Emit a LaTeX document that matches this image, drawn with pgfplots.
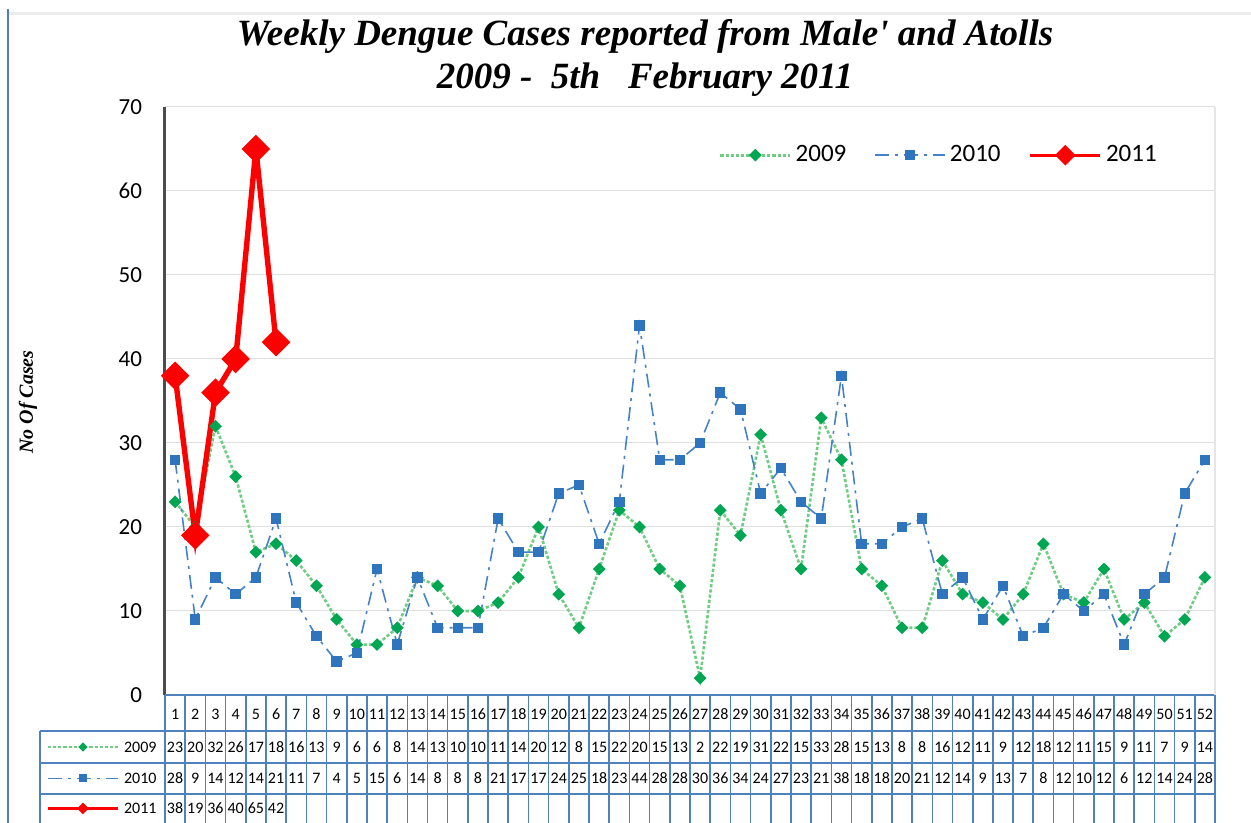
\documentclass[border=0pt]{standalone}
\usepackage{fontspec}
\usepackage{pgfplots}
\usepackage{pgfplotstable}
\pgfplotsset{compat=1.18}
\usetikzlibrary{shapes.geometric}
\setmainfont{Carlito}
\newfontfamily\timesf{Liberation Serif}
\definecolor{g09}{RGB}{0,166,81}
\definecolor{g09l}{RGB}{110,205,130}
\definecolor{b10}{RGB}{46,117,190}
\definecolor{b10l}{RGB}{70,130,200}
\definecolor{r11}{RGB}{255,0,0}
\definecolor{tblc}{RGB}{79,129,189}

% week, 2009, 2010
\pgfplotstableread{
wk a b
1 23 28
2 20 9
3 32 14
4 26 12
5 17 14
6 18 21
7 16 11
8 13 7
9 9 4
10 6 5
11 6 15
12 8 6
13 14 14
14 13 8
15 10 8
16 10 8
17 11 21
18 14 17
19 20 17
20 12 24
21 8 25
22 15 18
23 22 23
24 20 44
25 15 28
26 13 28
27 2 30
28 22 36
29 19 34
30 31 24
31 22 27
32 15 23
33 33 21
34 28 38
35 15 18
36 13 18
37 8 20
38 8 21
39 16 12
40 12 14
41 11 9
42 9 13
43 12 7
44 18 8
45 12 12
46 11 10
47 15 12
48 9 6
49 11 12
50 7 14
51 9 24
52 14 28
}\dengue

% 2011
\pgfplotstableread{
wk c
1 38
2 19
3 36
4 40
5 65
6 42
}\dengueb

\tikzset{
  l09/.style={g09l, line width=1.3pt, dash pattern=on 1.6pt off 1pt},
  l10/.style={b10l, line width=0.8pt, dash pattern=on 7pt off 3pt on 1.5pt off 3pt},
  l11/.style={r11, line width=2.7pt},
  cellnum/.style={font=\fontsize{8}{9}\selectfont, inner sep=0pt}
}

\begin{document}
\begin{tikzpicture}
\begin{axis}[
    width=525pt, height=294pt, scale only axis,
    xmin=0.5, xmax=52.5, ymin=0, ymax=70,
    ytick={0,10,...,70}, xtick=\empty,
    axis x line=none, axis y line*=left,
    y axis line style={gray!60!black, line width=1.5pt},
    ymajorgrids, grid style={gray!25, line width=0.5pt},
    major tick length=0pt,
    yticklabel style={font=\fontsize{11.5}{13}\selectfont, xshift=-8pt},
    /pgf/number format/assume math mode=true,
    clip=false,
    legend style={draw=none, fill=none, at={(0.738,0.918)}, anchor=center,
      font=\fontsize{12.5}{14}\selectfont,
      /tikz/every even column/.append style={column sep=12pt}},
    legend columns=3, legend cell align=left,
    legend image code/.code={\draw[mark repeat=2,mark phase=2]
      plot coordinates {(0pt,0pt) (17.5pt,0pt) (35pt,0pt)};},
  ]
  \addplot[l09, mark=square*, mark size=1.6pt,
    mark options={solid, g09, rotate=45}] table[x=wk, y=a]{\dengue};
  \addlegendentry{2009}
  \addplot[l10, mark=square*, mark size=2.2pt,
    mark options={solid, b10}] table[x=wk, y=b]{\dengue};
  \addlegendentry{2010}
  \addplot[l11, mark=square*, mark size=3.7pt,
    mark options={solid, r11, rotate=45},
    legend image post style={line width=1.7pt, mark size=2.8pt}]
    table[x=wk, y=c]{\dengueb};
  \addlegendentry{2011}

  % data table under the plot
  \addplot[forget plot, draw=none, mark=none, nodes near coords,
    point meta=explicit, nodes near coords style={cellnum, anchor=center}]
    table[x=wk, y expr=-2.26, meta=wk]{\dengue};
  \addplot[forget plot, draw=none, mark=none, nodes near coords,
    point meta=explicit, nodes near coords style={cellnum, anchor=center}]
    table[x=wk, y expr=-6.19, meta=a]{\dengue};
  \addplot[forget plot, draw=none, mark=none, nodes near coords,
    point meta=explicit, nodes near coords style={cellnum, anchor=center}]
    table[x=wk, y expr=-9.94, meta=b]{\dengue};
  \addplot[forget plot, draw=none, mark=none, nodes near coords,
    point meta=explicit, nodes near coords style={cellnum, anchor=center}]
    table[x=wk, y expr=-13.5, meta=c]{\dengueb};

  % table grid
  \draw[tblc, line width=0.8pt] (axis cs:0.5,0) -- (axis cs:52.5,0);
  \pgfplotsinvokeforeach{-4.29,-8.10,-11.79}{
    \draw[tblc, line width=0.8pt] (axis cs:-5.69,#1) -- (axis cs:52.5,#1);}
  \pgfplotsinvokeforeach{0.5,1.5,...,52.5}{
    \draw[tblc, line width=0.8pt] (axis cs:#1,0) -- (axis cs:#1,-15.3);}
  \draw[tblc, line width=0.8pt] (axis cs:-5.69,-4.29) -- (axis cs:-5.69,-15.3);

  % table row keys
  \draw[l09] (axis cs:-5.3,-6.19) -- (axis cs:-1.83,-6.19)
    node[pos=0.5, diamond, solid, fill=g09, inner sep=1.3pt] {};
  \draw[l10, line width=0.7pt] (axis cs:-5.3,-9.94) -- (axis cs:-1.83,-9.94)
    node[pos=0.5, rectangle, solid, fill=b10, inner sep=2pt] {};
  \draw[r11, line width=1.5pt] (axis cs:-5.3,-13.5) -- (axis cs:-1.83,-13.5)
    node[pos=0.5, diamond, fill=r11, inner sep=1.6pt] {};
  \node[cellnum, anchor=east] at (axis cs:0.1,-6.19) {2009};
  \node[cellnum, anchor=east] at (axis cs:0.1,-9.94) {2010};
  \node[cellnum, anchor=east] at (axis cs:0.1,-13.5) {2011};

  \draw[gray!20, line width=0.6pt] (rel axis cs:1,0) -- (rel axis cs:1,1);
\end{axis}

\node[font=\timesf\bfseries\itshape\fontsize{18.5}{21.5}\selectfont, align=center]
  at (240pt,318.5pt)
  {Weekly Dengue Cases reported from Male' and Atolls\\
   2009 -\ \ 5th\ \ \ February 2011};
\node[font=\timesf\bfseries\itshape\fontsize{10}{12}\selectfont, rotate=90]
  at (-68.5pt,146.5pt) {No Of Cases};
\draw[gray!15, line width=1.5pt] (-78pt,340.5pt) -- (543pt,340.5pt);
\draw[tblc, line width=1pt] (-78.5pt,343pt) -- (-78.5pt,-64pt);

\pgfresetboundingbox
\path[use as bounding box] (-82.5pt,-64pt) rectangle (543pt,347.5pt);
\end{tikzpicture}
\end{document}
